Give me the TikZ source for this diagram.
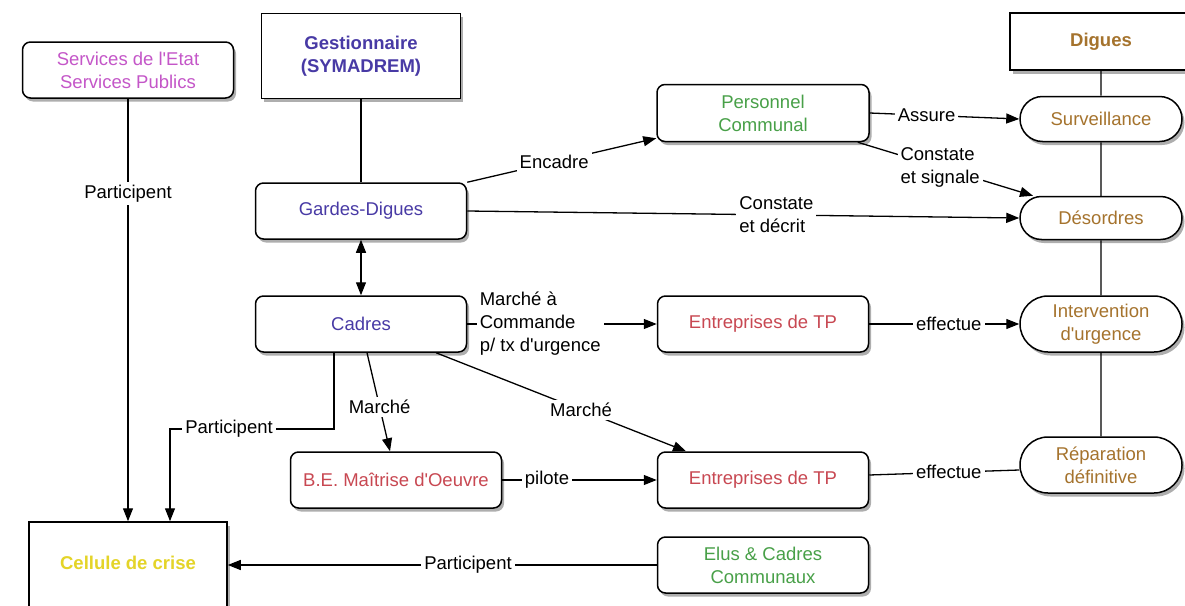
\documentclass[tikz,border=0pt]{standalone}
\usepackage{fontspec}
\setmainfont{Liberation Sans}[Ligatures=TeXOff]
\usetikzlibrary{arrows.meta,shapes.misc,shadows}
\definecolor{cMag}{RGB}{196,86,200}
\definecolor{cBlue}{RGB}{72,58,165}
\definecolor{cGreen}{RGB}{72,160,72}
\definecolor{cRed}{RGB}{200,72,82}
\definecolor{cBrown}{RGB}{165,115,45}
\definecolor{cYellow}{RGB}{228,212,40}
\tikzset{
  base/.style={font=\fontsize{18.5}{23}\selectfont},
  bold/.style={font=\fontsize{18.5}{23}\selectfont\bfseries},
  shad/.style={drop shadow={shadow xshift=2.5pt,shadow yshift=-3.5pt,opacity=0.45,fill=black!70}},
  rbox/.style={base, draw, line width=1.5pt, rounded corners=8pt, fill=white, minimum width=211pt, minimum height=56pt, align=center, inner sep=2pt, shad},
  sbox/.style={draw, line width=1.5pt, fill=white, align=center, inner sep=0pt, shad},
  pill/.style={base, draw, line width=1.5pt, rounded rectangle, fill=white, minimum width=166pt, align=center, inner sep=2pt, shad, text=cBrown},
  lbl/.style={base, fill=white, inner sep=3pt, text=black},
  conn/.style={line width=1.3pt},
  tip/.tip={Triangle[length=13pt,width=10pt]},
  arr/.style={conn, -tip},
}
\begin{document}
\begin{tikzpicture}[x=1pt,y=-1pt]
\useasboundingbox (0,0) rectangle (1185,605);
\clip (0,0) rectangle (1185,605);
% boxes
\node[rbox, text=cMag] (serv) at (128,70) {Services de l'Etat\\Services Publics};
\node[sbox, bold, text=cBlue, minimum width=199pt, minimum height=85pt] (gest) at (361,56) {Gestionnaire\\(SYMADREM)};
\node[sbox, bold, text=cBrown, minimum width=182pt, minimum height=57pt] (digues) at (1101,41.5) {Digues};
\node[sbox, minimum width=198pt, minimum height=93pt] (cell) at (128,568.5) {};
\node[bold, text=cYellow] (celltxt) at (128,563) {Cellule de crise};
\node[rbox, text=cBlue] (gard) at (361,211) {Gardes-Digues};
\node[rbox, text=cBlue] (cadr) at (361,324) {Cadres};
\node[rbox, text=cGreen, minimum width=212pt, minimum height=57pt] (pers) at (763,113) {Personnel\\Communal};
\node[rbox, text=cRed] (ent1) at (763,324) {Entreprises de TP};
\node[rbox, text=cRed] (ent2) at (763,480) {Entreprises de TP};
\node[rbox, text=cRed] (be) at (396,480) {B.E. Maîtrise d'Oeuvre};
\node[rbox, text=cGreen] (elus) at (763,565) {Elus \& Cadres\\Communaux};
\node[pill, minimum height=45pt] (surv) at (1101,119) {Surveillance};
\node[pill, minimum height=43pt] (deso) at (1101,218) {Désordres};
\node[pill, minimum height=56pt] (inter) at (1101,324) {Intervention\\d'urgence};
\node[pill, minimum height=56pt] (repa) at (1101,465) {Réparation\\définitive};
% right spine
\draw[conn] (digues) -- (surv) (surv) -- (deso) (deso) -- (inter) (inter) -- (repa);
% connectors
\draw[arr] (serv.south) -- node[lbl,pos=0.224]{Participent} (serv.south |- cell.north);
\draw[conn] (gest) -- (gard);
\draw[conn, tip-tip] (gard) -- (cadr);
\draw[arr] (gard.north east) -- node[lbl,pos=0.46]{Encadre} ([yshift=4pt]pers.south west);
\draw[arr] (pers.east) -- node[lbl,pos=0.38]{Assure} (surv.west);
\draw[arr] ([xshift=-12pt]pers.south east) -- node[lbl,align=left,pos=0.47]{Constate\\et signale} ([xshift=-68pt]deso.north);
\draw[arr] (gard.east) -- node[lbl,align=left,pos=0.56]{Constate\\et décrit} (deso.west);
\draw[arr] (cadr.east) -- node[lbl,align=left,pos=0.385]{Marché à\\Commande\\p/ tx d'urgence} (ent1.west);
\draw[arr] (ent1.east) -- node[lbl,pos=0.53]{effectue} (inter.west);
\coordinate (pc) at (170,429);
\draw[arr] ([xshift=-27pt]cadr.south) |- node[lbl,pos=0.82]{Participent} (pc) -- (pc |- cell.north);
\draw[arr] ([xshift=6pt]cadr.south) -- node[lbl,pos=0.55]{Marché} ([xshift=-6pt]be.north);
\draw[arr] ([xshift=75pt]cadr.south) -- node[lbl,pos=0.58]{Marché} ([xshift=-77pt]ent2.north);
\draw[arr] (be.east) -- node[lbl,pos=0.29]{pilote} (ent2.west);
\draw[conn] ([yshift=5pt]ent2.east) -- node[lbl,pos=0.53]{effectue} ([yshift=-5pt]repa.west);
\draw[arr] (elus.west) -- node[lbl,pos=0.44]{Participent} (elus.west -| cell.east);
\end{tikzpicture}
\end{document}
